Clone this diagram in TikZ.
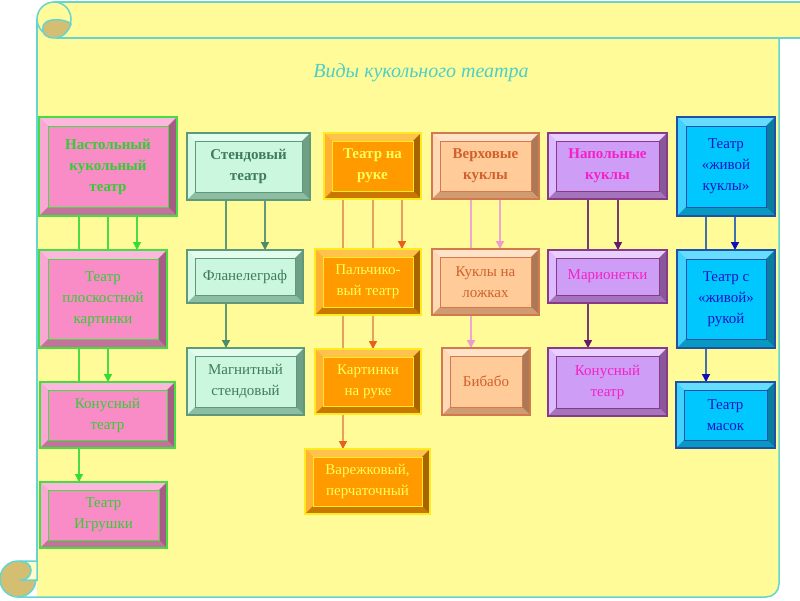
\documentclass[tikz,border=0pt]{standalone}
\usepackage{fontspec}
\setmainfont{Liberation Serif}
\usetikzlibrary{arrows.meta,backgrounds}
\definecolor{bg}{HTML}{FFFB98}
\definecolor{bgpale}{HTML}{FFFDC8}
\definecolor{edgec}{HTML}{66D4D0}
\definecolor{tanc}{HTML}{D3BE72}
\definecolor{ttl}{HTML}{4DCFC8}
% pink
\definecolor{pF}{HTML}{F98CC6}\definecolor{pT}{HTML}{FBB8DC}\definecolor{pL}{HTML}{F8A8D2}
\definecolor{pR}{HTML}{A65C84}\definecolor{pB}{HTML}{C27399}\definecolor{pE}{HTML}{44DD44}\definecolor{pX}{HTML}{33CC33}
% mint
\definecolor{mF}{HTML}{CCF7DF}\definecolor{mT}{HTML}{E2FCEE}\definecolor{mL}{HTML}{D6F9E5}
\definecolor{mR}{HTML}{6F9F85}\definecolor{mB}{HTML}{8DBDA2}\definecolor{mE}{HTML}{5E9A7A}\definecolor{mX}{HTML}{3F7C5C}
% orange
\definecolor{oF}{HTML}{FF9A00}\definecolor{oT}{HTML}{FFC24C}\definecolor{oL}{HTML}{FFB233}
\definecolor{oR}{HTML}{A86400}\definecolor{oB}{HTML}{C87800}\definecolor{oE}{HTML}{FFEA1F}\definecolor{oX}{HTML}{FFFF5A}
% peach
\definecolor{cF}{HTML}{FFCC99}\definecolor{cT}{HTML}{FFE3C8}\definecolor{cL}{HTML}{FFD9B5}
\definecolor{cR}{HTML}{AD7856}\definecolor{cB}{HTML}{D19B72}\definecolor{cE}{HTML}{D27A4E}\definecolor{cX}{HTML}{D0602E}
% lavender
\definecolor{lF}{HTML}{CE9EF7}\definecolor{lT}{HTML}{E8CFFF}\definecolor{lL}{HTML}{DCBAFF}
\definecolor{lR}{HTML}{88589A}\definecolor{lB}{HTML}{A474BC}\definecolor{lE}{HTML}{883A88}\definecolor{lX}{HTML}{F520C8}
% cyan
\definecolor{bF}{HTML}{00C8FF}\definecolor{bT}{HTML}{66DDFF}\definecolor{bL}{HTML}{40D2FF}
\definecolor{bR}{HTML}{0A7C9E}\definecolor{bB}{HTML}{0899C2}\definecolor{bE}{HTML}{2050A8}\definecolor{bX}{HTML}{1414C4}
% connectors
\definecolor{gLn}{HTML}{4ADB4A}\definecolor{gAr}{HTML}{33DD33}
\definecolor{mLn}{HTML}{5E9A7A}\definecolor{mAr}{HTML}{4F8A6A}
\definecolor{oLn}{HTML}{E8A060}\definecolor{oAr}{HTML}{E8601A}
\definecolor{cLn}{HTML}{F0A6CF}\definecolor{cAr}{HTML}{EE9AD0}
\definecolor{lLn}{HTML}{7A3A7A}\definecolor{lAr}{HTML}{6A1A6A}
\definecolor{bLn}{HTML}{4070B0}\definecolor{bAr}{HTML}{1010B8}

\tikzset{
  bvcol/.code n args={5}{\def\bvT{#1}\def\bvL{#2}\def\bvR{#3}\def\bvB{#4}\def\bvE{#5}},
  bvw/.store in=\bvw, bvw=8pt,
  bevbox/.style={draw, line width=1.2pt, rectangle, inner sep=0pt, outer sep=0pt,
    align=center, font=\fontsize{15}{21}\selectfont,
    path picture={
      \path (path picture bounding box.north west) coordinate (bvNW)
            (path picture bounding box.north east) coordinate (bvNE)
            (path picture bounding box.south west) coordinate (bvSW)
            (path picture bounding box.south east) coordinate (bvSE);
      \fill[fill=\bvT] (bvNW) -- (bvNE) -- ([shift={(-\bvw,-\bvw)}]bvNE) -- ([shift={(\bvw,-\bvw)}]bvNW) -- cycle;
      \fill[fill=\bvL] (bvNW) -- ([shift={(\bvw,-\bvw)}]bvNW) -- ([shift={(\bvw,\bvw)}]bvSW) -- (bvSW) -- cycle;
      \fill[fill=\bvR] (bvNE) -- ([shift={(-\bvw,-\bvw)}]bvNE) -- ([shift={(-\bvw,\bvw)}]bvSE) -- (bvSE) -- cycle;
      \fill[fill=\bvB] (bvSW) -- ([shift={(\bvw,\bvw)}]bvSW) -- ([shift={(-\bvw,\bvw)}]bvSE) -- (bvSE) -- cycle;
      \draw[draw=\bvE, line width=0.9pt] ([shift={(\bvw,-\bvw)}]bvNW) rectangle ([shift={(-\bvw,\bvw)}]bvSE);
    }},
  hd/.style={font=\fontsize{15}{21}\selectfont\bfseries},
  pinkbox/.style={bevbox, fill=pF, draw=pE, text=pX, bvcol={pT}{pL}{pR}{pB}{pE}},
  mintbox/.style={bevbox, fill=mF, draw=mE, text=mX, bvcol={mT}{mL}{mR}{mB}{mE}},
  orbox/.style={bevbox, fill=oF, draw=oE, text=oX, bvcol={oT}{oL}{oR}{oB}{oE}},
  pchbox/.style={bevbox, fill=cF, draw=cE, text=cX, bvcol={cT}{cL}{cR}{cB}{cE}},
  lavbox/.style={bevbox, fill=lF, draw=lE, text=lX, bvcol={lT}{lL}{lR}{lB}{lE}},
  cybox/.style={bevbox, fill=bF, draw=bE, text=bX, bvcol={bT}{bL}{bR}{bB}{bE}},
  cn/.style={line width=1.4pt},
  tipc/.style={-{Triangle[width=8pt,length=8pt,color=#1]}},
  edgeln/.style={draw=edgec, line width=1.5pt},
}
\newcommand\bx[7]{\node[#1, minimum width={(#5-#3)*1pt}, minimum height={(#6-#4)*1pt}] (#2) at ({(#3+#5)/2},{(#4+#6)/2}) {#7};}

\begin{document}
\begin{tikzpicture}[x=1pt,y=-1pt]
\useasboundingbox (0,0) rectangle (800,600);

% title
\node[font=\fontsize{20}{24}\selectfont\itshape, text=ttl] (title) at (421,73) {Виды кукольного театра};

% column 1
\bx{pinkbox, bvw=9pt, hd}{a1}{39}{117}{177}{216}{Настольный\\кукольный\\театр}
\bx{pinkbox, bvw=9pt}{a2}{39}{250}{167}{348}{Театр\\плоскостной\\картинки}
\bx{pinkbox}{a3}{40}{382}{175}{448}{Конусный\\театр}
\bx{pinkbox}{a4}{40}{482}{167}{548}{Театр\\Игрушки}
% column 2
\bx{mintbox, hd}{b1}{187}{133}{310}{200}{Стендовый\\театр}
\bx{mintbox}{b2}{187}{250}{303}{303}{Фланелеграф}
\bx{mintbox}{b3}{187}{348}{304}{415}{Магнитный\\стендовый}
% column 3
\bx{orbox, hd}{c1}{324}{133}{421}{199}{Театр на\\руке}
\bx{orbox}{c2}{315}{249}{421}{315}{Пальчико-\\вый театр}
\bx{orbox}{c3}{315}{349}{421}{414}{Картинки\\на руке}
\bx{orbox}{c4}{305}{449}{430}{514}{Варежковый,\\перчаточный}
% column 4
\bx{pchbox, hd}{d1}{432}{133}{539}{199}{Верховые\\куклы}
\bx{pchbox}{d2}{432}{249}{539}{315}{Куклы на\\ложках}
\bx{pchbox}{d3}{442}{348}{530}{415}{Бибабо}
% column 5
\bx{lavbox, hd}{e1}{548}{133}{667}{199}{Напольные\\куклы}
\bx{lavbox}{e2}{548}{250}{667}{303}{Марионетки}
\bx{lavbox}{e3}{548}{348}{667}{416}{Конусный\\театр}
% column 6
\bx{cybox, bvw=9pt}{f1}{677}{117}{775}{216}{Театр\\«живой\\куклы»}
\bx{cybox, bvw=9pt}{f2}{677}{250}{775}{348}{Театр с\\«живой»\\рукой}
\bx{cybox}{f3}{676}{382}{775}{448}{Театр\\масок}

\coordinate (k1) at (79,0);  \coordinate (k2) at (108,0); \coordinate (k3) at (137,0);
\coordinate (k4) at (226,0); \coordinate (k5) at (265,0);
\coordinate (k6) at (343,0); \coordinate (k7) at (373,0); \coordinate (k8) at (402,0);
\coordinate (k9) at (471,0); \coordinate (k10) at (500,0);
\coordinate (k11) at (588,0); \coordinate (k12) at (618,0);
\coordinate (k13) at (706,0); \coordinate (k14) at (735,0);

\begin{pgfonlayer}{background}
  % body of the scroll
  \fill[bg] (37,19) -- (37,597) -- (766,597) arc[start angle=-90,end angle=0,radius=13pt] -- (779,19) -- cycle;
  \draw[edgeln] (37,19) -- (37,561);
  \draw[edgeln] (18,597) -- (766,597) arc[start angle=-90,end angle=0,radius=13pt] -- (779,38);
  % top banner
  \fill[bg] (54,2) rectangle (800,38);
  \draw[edgeln] (54,2) -- (800,2);
  \draw[edgeln] (56,38) -- (800,38);
  \draw[edgeln, fill=bg] (54,19) circle (17pt);
  \draw[edgeln, fill=tanc] (45,35) .. controls (40,29) and (43,21) .. (52,20)
     .. controls (60,19) and (68,21) .. (71,24) .. controls (68,33) and (61,38) .. (55,38)
     .. controls (50,38) and (47,37) .. (45,35) -- cycle;
  % bottom curl
  \draw[edgeln, fill=tanc] (18,579) circle (18pt);
  \draw[edgeln, fill=bgpale] (20,561) -- (37,561) -- (37,580) -- (20,580)
     .. controls (28,580) and (31,575) .. (31,570) .. controls (31,565) and (26,561) .. (20,561) -- cycle;

  % connectors
  \draw[cn, draw=gLn, tipc=gAr] (k1 |- a1.south) -- (k1 |- a4.north);
  \draw[cn, draw=gLn, tipc=gAr] (k2 |- a1.south) -- (k2 |- a3.north);
  \draw[cn, draw=gLn, tipc=gAr] (k3 |- a1.south) -- (k3 |- a2.north);
  \draw[cn, draw=mLn, tipc=mAr] (k4 |- b1.south) -- (k4 |- b3.north);
  \draw[cn, draw=mLn, tipc=mAr] (k5 |- b1.south) -- (k5 |- b2.north);
  \draw[cn, draw=oLn, tipc=oAr] (k6 |- c1.south) -- (k6 |- c4.north);
  \draw[cn, draw=oLn, tipc=oAr] (k7 |- c1.south) -- (k7 |- c3.north);
  \draw[cn, draw=oLn, tipc=oAr] (k8 |- c1.south) -- (k8 |- c2.north);
  \draw[cn, draw=cLn, tipc=cAr] (k9 |- d1.south) -- (k9 |- d3.north);
  \draw[cn, draw=cLn, tipc=cAr] (k10 |- d1.south) -- (k10 |- d2.north);
  \draw[cn, draw=lLn, tipc=lAr] (k11 |- e1.south) -- (k11 |- e3.north);
  \draw[cn, draw=lLn, tipc=lAr] (k12 |- e1.south) -- (k12 |- e2.north);
  \draw[cn, draw=bLn, tipc=bAr] (k13 |- f1.south) -- (k13 |- f3.north);
  \draw[cn, draw=bLn, tipc=bAr] (k14 |- f1.south) -- (k14 |- f2.north);
\end{pgfonlayer}
\end{tikzpicture}
\end{document}
